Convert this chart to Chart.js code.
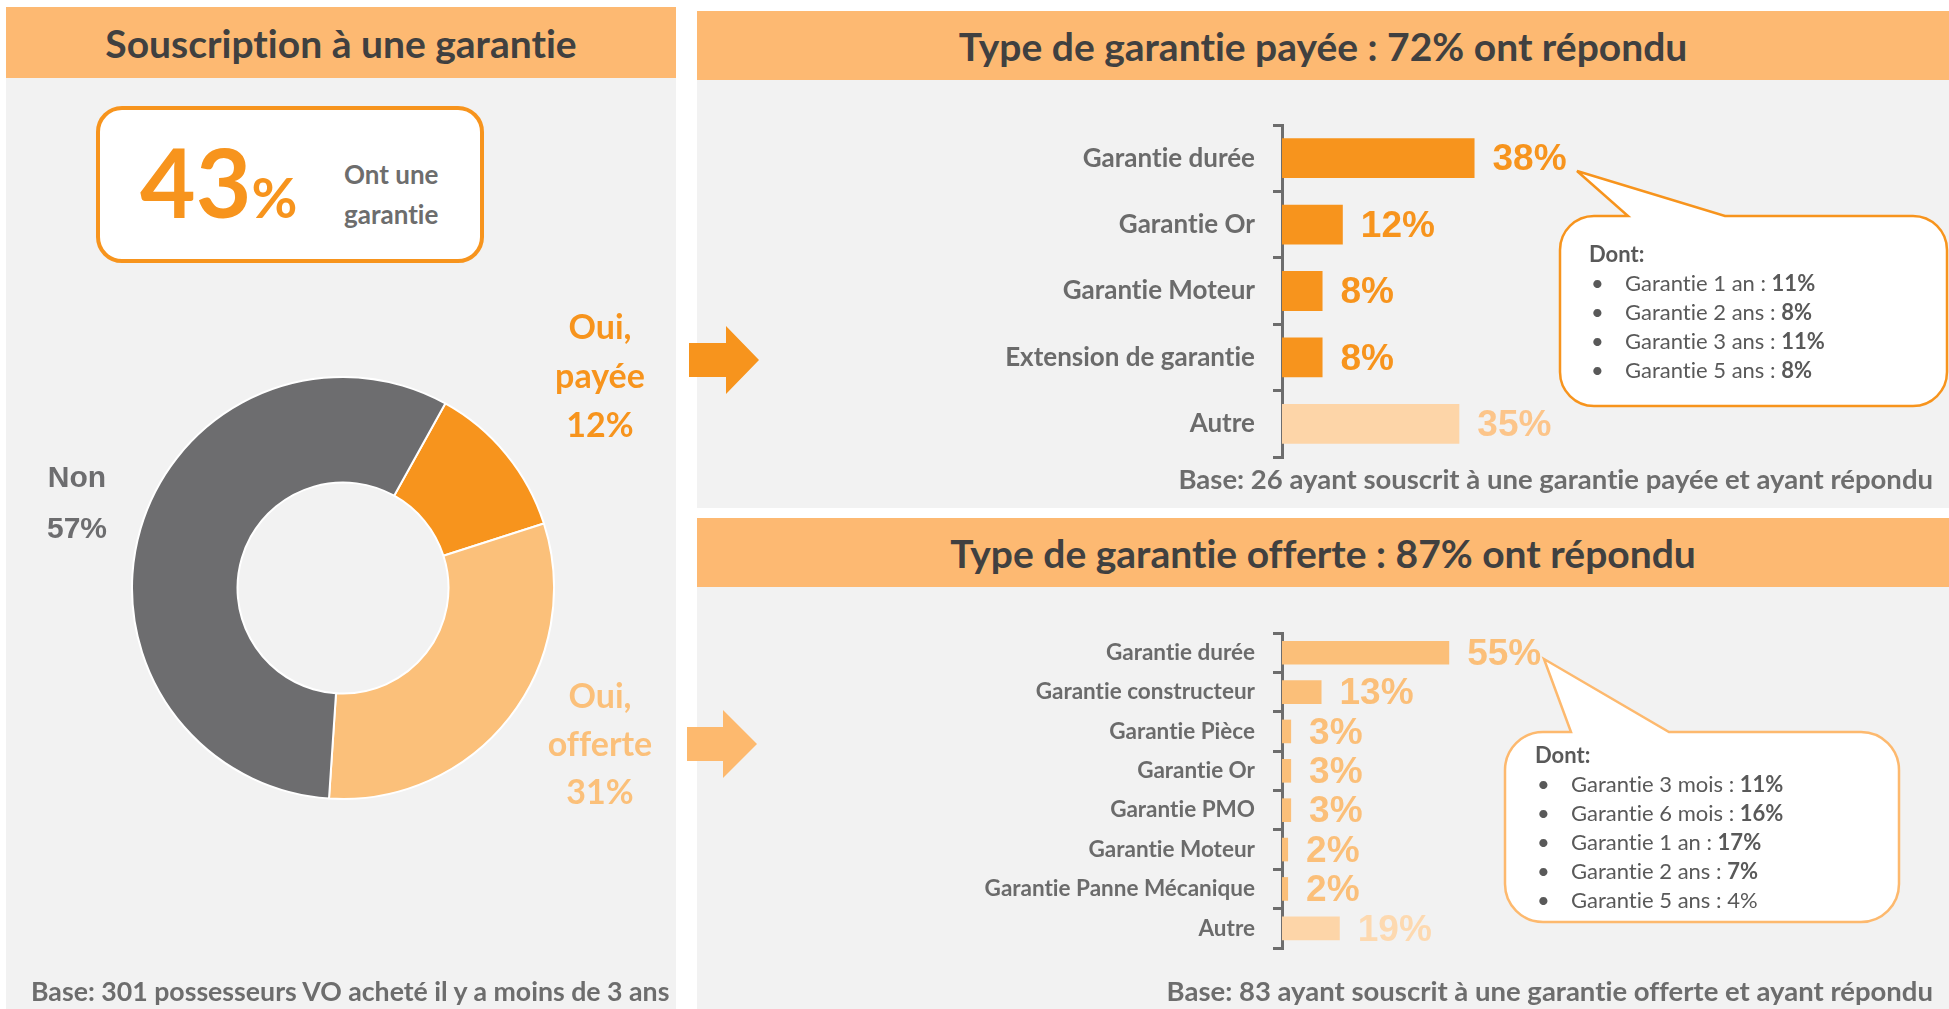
<!DOCTYPE html>
<html lang="fr">
<head>
<meta charset="utf-8">
<title>Souscription à une garantie</title>
<script src="https://cdn.jsdelivr.net/npm/chart.js@4.4.0/dist/chart.umd.min.js"></script>
<style>
  body { margin: 0; width: 1949px; height: 1009px; background: #fff; position: relative; overflow: hidden;
         font-family: Lato, sans-serif; font-variant-ligatures: none; }
  .panel { position: absolute; background: #f2f2f2; }
  .head { position: absolute; background: #fdb972; color: #404040; font-weight: bold; font-size: 39px;
          display: flex; align-items: center; justify-content: center; }
  .txt { position: absolute; white-space: nowrap; }
  canvas { position: absolute; }
  svg { position: absolute; left: 0; top: 0; }
  .box { position: absolute; left: 96px; top: 106px; width: 388px; height: 157px; box-sizing: border-box;
         border: 4px solid #f7941d; border-radius: 26px; background: #fff; }
  .bubble { position: absolute; font-size: 22px; color: #595959; line-height: 29px; white-space: nowrap; }
  .bubble div { position: relative; }
  .bubble .li { padding-left: 36px; }
  .bubble .li::before { content: "•"; position: absolute; left: 2px; }
  .base { position: absolute; font-weight: bold; font-size: 27.5px; color: #6d6d6d; white-space: nowrap; line-height: 30px; }
</style>
</head>
<body>

<div class="panel" style="left:6px; top:78px; width:670px; height:931px;"></div>
<div class="head" style="left:6px; top:7px; width:670px; height:71px;">Souscription à une garantie</div>

<div class="panel" style="left:697px; top:80px; width:1252px; height:428px;"></div>
<div class="head" style="left:697px; top:11px; width:1252px; height:69px;">Type de garantie payée : 72% ont répondu</div>

<div class="panel" style="left:697px; top:587px; width:1252px; height:422px;"></div>
<div class="head" style="left:697px; top:518px; width:1252px; height:69px;">Type de garantie offerte : 87% ont répondu</div>

<div class="box"></div>
<div class="txt" style="left:140px; top:131px; font-size:96px; line-height:100px; font-weight:bold; color:#f7941d;">43<span style="font-size:56px;">%</span></div>
<div class="txt" style="left:344px; top:154px; font-size:26px; line-height:40px; font-weight:bold; color:#6d6d6d;">Ont une<br>garantie</div>

<canvas id="donut" width="424" height="424" style="left:131px; top:376px;"></canvas>
<div class="txt" style="left:520px; top:301px; width:160px; text-align:center; font-size:34px; line-height:49px; font-weight:bold; color:#f7941d;">Oui,<br>payée<br>12%</div>
<div class="txt" style="left:520px; top:671px; width:160px; text-align:center; font-size:34px; line-height:48px; font-weight:bold; color:#fbc07a;">Oui,<br>offerte<br>31%</div>
<div class="txt" style="left:17px; top:451px; width:120px; text-align:center; font-family:'Liberation Sans', Arial, sans-serif; font-size:30px; line-height:51px; font-weight:bold; color:#6d6d6f;">Non<br>57%</div>

<canvas id="payee" width="686" height="352" style="left:980px; top:115px;"></canvas>
<canvas id="offerte" width="686" height="335" style="left:980px; top:623px;"></canvas>

<svg width="1949" height="1009">
  <polygon points="689,343 726,343 726,326 759,360 726,394 726,377 689,377" fill="#f7941d"/>
  <polygon points="687,727 723,727 723,710 757,744 723,778 723,761 687,761" fill="#fdb96e"/>
  <path d="M1594,216 L1628,216 L1577,171 L1725,216 L1913,216 A34,34 0 0 1 1947,250 L1947,372 A34,34 0 0 1 1913,406 L1594,406 A34,34 0 0 1 1560,372 L1560,250 A34,34 0 0 1 1594,216 Z"
        fill="#fff" stroke="#f7941d" stroke-width="2.5"/>
  <path d="M1543,732 L1571,732 L1544,659 L1669,732 L1861,732 A38,38 0 0 1 1899,770 L1899,884 A38,38 0 0 1 1861,922 L1543,922 A38,38 0 0 1 1505,884 L1505,770 A38,38 0 0 1 1543,732 Z"
        fill="#fff" stroke="#fdb96e" stroke-width="2.5"/>
</svg>

<div class="bubble" id="bubblePayee" style="left:1589px; top:239px;"></div>
<div class="bubble" id="bubbleOfferte" style="left:1535px; top:740px;"></div>

<div class="base" style="right:16px; top:464px;">Base: 26 ayant souscrit à une garantie payée et ayant répondu</div>
<div class="base" style="right:16px; top:976px;">Base: 83 ayant souscrit à une garantie offerte et ayant répondu</div>
<div class="base" style="left:31px; top:976px; font-size:26.7px;">Base: 301 possesseurs VO acheté il y a moins de 3 ans</div>

<script>
const donutLabels = ['Oui, payée', 'Oui, offerte', 'Non'];
const donutValues = [12, 31, 57];

const payeeLabels = ['Garantie durée', 'Garantie Or', 'Garantie Moteur', 'Extension de garantie', 'Autre'];
const payeeValues = [38, 12, 8, 8, 35];

const offerteLabels = ['Garantie durée', 'Garantie constructeur', 'Garantie Pièce', 'Garantie Or',
  'Garantie PMO', 'Garantie Moteur', 'Garantie Panne Mécanique', 'Autre'];
const offerteValues = [55, 13, 3, 3, 3, 2, 2, 19];

const payeeDetailLabels = ['Garantie 1 an', 'Garantie 2 ans', 'Garantie 3 ans', 'Garantie 5 ans'];
const payeeDetailValues = [11, 8, 11, 8];
const offerteDetailLabels = ['Garantie 3 mois', 'Garantie 6 mois', 'Garantie 1 an', 'Garantie 2 ans', 'Garantie 5 ans'];
const offerteDetailValues = [11, 16, 17, 7, 4];

function fillBubble(id, labels, values, boldCount) {
  const el = document.getElementById(id);
  let html = '<div style="font-weight:bold">Dont:</div>';
  labels.forEach((l, i) => {
    const v = i < boldCount ? '<b>' + values[i] + '%</b>' : values[i] + '%';
    html += '<div class="li">' + l + ' : ' + v + '</div>';
  });
  el.innerHTML = html;
}
fillBubble('bubblePayee', payeeDetailLabels, payeeDetailValues, 4);
fillBubble('bubbleOfferte', offerteDetailLabels, offerteDetailValues, 4);

// pourcentages a droite des barres
const valueLabels = {
  id: 'valueLabels',
  afterDatasetsDraw(chart, args, opts) {
    const ctx = chart.ctx;
    const meta = chart.getDatasetMeta(0);
    ctx.save();
    ctx.font = 'bold 37px "Liberation Sans", Arial, sans-serif';
    ctx.textBaseline = 'middle';
    meta.data.forEach((bar, i) => {
      ctx.fillStyle = opts.colors[i];
      ctx.fillText(chart.data.datasets[0].data[i] + '%', bar.x + 18, bar.y + 2);
    });
    ctx.restore();
  }
};

new Chart(document.getElementById('donut'), {
  type: 'doughnut',
  data: {
    labels: donutLabels,
    datasets: [{
      data: donutValues,
      backgroundColor: ['#f7941d', '#fbc07a', '#6d6d6f'],
      borderColor: '#fff',
      borderWidth: 2
    }]
  },
  options: {
    responsive: false,
    animation: false,
    rotation: 29,
    cutout: '50%',
    plugins: { legend: { display: false }, tooltip: { enabled: false } }
  }
});

function barChart(id, labels, values, colors, textColors, max, fontSize) {
  new Chart(document.getElementById(id), {
    type: 'bar',
    data: {
      labels,
      datasets: [{ data: values, backgroundColor: colors, barPercentage: 0.6, categoryPercentage: 1 }]
    },
    options: {
      indexAxis: 'y',
      responsive: false,
      animation: false,
      layout: { padding: { top: 10, bottom: 10, right: 80 } },
      plugins: {
        legend: { display: false },
        tooltip: { enabled: false },
        valueLabels: { colors: textColors }
      },
      scales: {
        x: { display: false, min: 0, max },
        y: {
          afterFit: s => { s.width = 302; s.paddingTop = 0; s.paddingBottom = 0; },
          border: { color: '#6d6d6d', width: 3 },
          grid: { drawOnChartArea: false, color: '#6d6d6d', lineWidth: 3, tickLength: 9, offset: true },
          ticks: { color: '#6b6b6b', padding: 18, font: { family: 'Lato', weight: 'bold', size: fontSize } }
        }
      }
    },
    plugins: [valueLabels]
  });
}

barChart('payee', payeeLabels, payeeValues,
  ['#f7941d', '#f7941d', '#f7941d', '#f7941d', '#fdd5a8'],
  ['#f7941d', '#f7941d', '#f7941d', '#f7941d', '#fcc58a'], 60, 26);

barChart('offerte', offerteLabels, offerteValues,
  ['#fbbf79', '#fbbf79', '#fbbf79', '#fbbf79', '#fbbf79', '#fbbf79', '#fbbf79', '#fdd5a8'],
  ['#fbbf79', '#fbbf79', '#fbbf79', '#fbbf79', '#fbbf79', '#fbbf79', '#fbbf79', '#fdd9b0'], 100, 22.5);
</script>
</body>
</html>
